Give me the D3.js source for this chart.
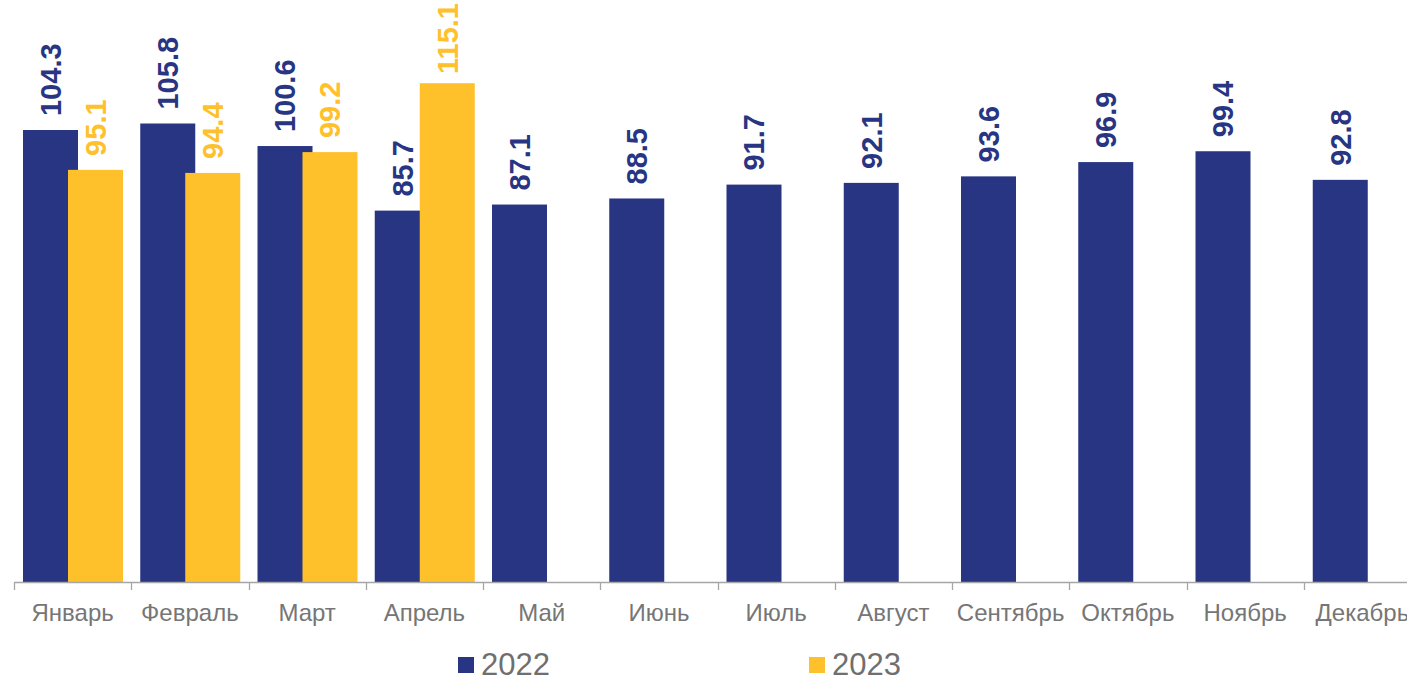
<!DOCTYPE html>
<html>
<head>
<meta charset="utf-8">
<script src="https://cdn.jsdelivr.net/npm/d3@7"></script>
<style>
  body { margin: 0; background: #fff; }
  text { font-family: "Liberation Sans", Arial, sans-serif; }
</style>
</head>
<body>
<div id="chart"></div>
<script>
    // Data
    const months = ["Январь", "Февраль", "Март", "Апрель", "Май", "Июнь", "Июль", "Август", "Сентябрь", "Октябрь", "Ноябрь", "Декабрь"];
    const values2022 = [104.3, 105.8, 100.6, 85.7, 87.1, 88.5, 91.7, 92.1, 93.6, 96.9, 99.4, 92.8];
    const values2023 = [95.1, 94.4, 99.2, 115.1];
    const seriesNames = ["2022", "2023"];
    const colors = ["#283583", "#FFC12B"];

    const width = 1407, height = 678;
    const baseY = 582;

    const svg = d3.select("#chart").append("svg")
        .attr("width", width)
        .attr("height", height);

    // rows: one per bar
    const rows = [];
    months.forEach((m, i) => {
        rows.push({ month: m, series: "2022", value: values2022[i] });
        if (values2023[i] !== undefined) rows.push({ month: m, series: "2023", value: values2023[i] });
    });

    // Scales
    const x = d3.scaleBand()
        .domain(months)
        .range([14, 1421])
        .padding(0);

    const x1 = d3.scaleBand()
        .domain(seriesNames)
        .range([9, 99]);
    const barW = x1.bandwidth() + 10; // bars overlap a little

    const y = d3.scaleLinear()
        .domain([0, 134.3])
        .range([baseY, 0]);

    const color = d3.scaleOrdinal().domain(seriesNames).range(colors);

    // Bars
    svg.selectAll(".bar")
        .data(rows)
        .join("rect")
        .attr("class", "bar")
        .attr("x", d => x(d.month) + x1(d.series))
        .attr("y", d => y(d.value))
        .attr("width", barW)
        .attr("height", d => y(0) - y(d.value))
        .attr("fill", d => color(d.series));

    // Value labels (rotated), pushed down if they would leave the top
    svg.selectAll(".label")
        .data(rows)
        .join("text")
        .attr("class", "label")
        .attr("dy", "0.36em")
        .attr("text-anchor", "start")
        .style("font-size", "29px")
        .style("font-weight", "bold")
        .attr("fill", d => color(d.series))
        .text(d => d.value.toFixed(1))
        .attr("transform", function (d) {
            const cx = x(d.month) + x1(d.series) + barW / 2;
            const len = this.getComputedTextLength();
            const gap = Math.min(14, y(d.value) - 3 - len);
            return "translate(" + cx + "," + (y(d.value) - gap) + ") rotate(-90)";
        });

    // X axis
    const xAxis = d3.axisBottom(x).tickSize(0).tickPadding(0);
    const gx = svg.append("g")
        .attr("transform", "translate(0," + (baseY + 0.5) + ")")
        .call(xAxis);
    gx.select(".domain").remove();
    gx.selectAll(".tick text")
        .attr("y", 38)
        .attr("dy", 0)
        .attr("fill", "#767676")
        .style("font-size", "24px")
        .style("font-family", "Liberation Sans, Arial, sans-serif");

    svg.append("line")
        .attr("x1", 14).attr("x2", width)
        .attr("y1", baseY + 0.5).attr("y2", baseY + 0.5)
        .attr("stroke", "#a6a6a6")
        .attr("stroke-width", 1.3);

    svg.selectAll(".tickmark")
        .data(months)
        .join("line")
        .attr("class", "tickmark")
        .attr("x1", d => Math.round(x(d)) + 0.5)
        .attr("x2", d => Math.round(x(d)) + 0.5)
        .attr("y1", baseY)
        .attr("y2", baseY + 8)
        .attr("stroke", "#a6a6a6")
        .attr("stroke-width", 1.3);

    // Legend
    const legendX = [458, 809];
    const legend = svg.selectAll(".legend")
        .data(seriesNames)
        .join("g")
        .attr("class", "legend")
        .attr("transform", (d, i) => "translate(" + legendX[i] + ",657)");
    legend.append("rect")
        .attr("width", 16).attr("height", 16)
        .attr("fill", d => color(d));
    legend.append("text")
        .attr("x", 23)
        .attr("y", 18)
        .attr("fill", "#6f6f6f")
        .style("font-size", "31px")
        .text(d => d);
</script>
</body>
</html>
